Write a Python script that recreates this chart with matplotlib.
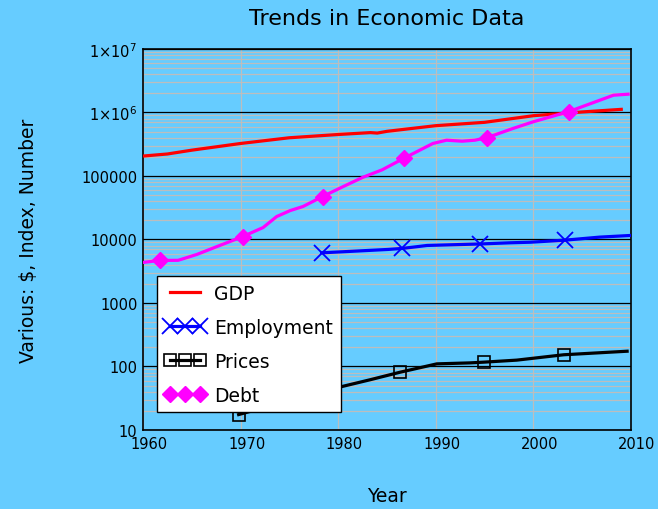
import matplotlib
matplotlib.use("Agg")
import matplotlib.pyplot as plt
import matplotlib.transforms as mtransforms
from matplotlib.ticker import FixedLocator, FixedFormatter, NullFormatter

# series read per year (irregular years where the curves bend)
gdp_years = [1960, 1962.5, 1965, 1970, 1975, 1980, 1983.3, 1984, 1985, 1990, 1995, 2000, 2005, 2009]
gdp = [206000, 222000, 255000, 325000, 400000, 450000, 482000, 474000, 505000, 620000,
       700000, 890000, 1020000, 1120000]

emp_years = [1978.3, 1980.4, 1985.1, 1986.5, 1988.0, 1989.1, 1994.5, 1997.6, 1999.7,
             2003.2, 2006.8, 2009.9]
employment = [6170, 6400, 6970, 7220, 7680, 8050, 8500, 8870, 9060, 9750, 10900, 11560]
emp_marked = [1978.3, 1986.5, 1994.5, 2003.2]

price_years = [1969.8, 1979.8, 1983.3, 1986.3, 1990.1, 1993.5, 1994.9, 1998.3, 2003.1, 2009.6]
prices = [17.5, 46, 62, 81, 110, 114, 117, 126, 153, 174]
price_marked = [1969.8, 1986.3, 1994.9, 2003.1]

debt_years = [1960, 1961.7, 1963.6, 1965.5, 1967.6, 1970.2, 1972.3, 1973.7, 1975.1, 1976.4,
              1978.4, 1980.5, 1982.5, 1984.5, 1986.7, 1989.7, 1991.1, 1992.7, 1994.0,
              1995.2, 1997.9, 2000.0, 2003.6, 2008.2, 2009.7]
debt = [4350, 4680, 4700, 5800, 7760, 11100, 15400, 23000, 28600, 33100, 47500, 68000,
        95000, 125000, 189000, 325000, 366000, 353000, 366000, 399000, 560000, 715000,
        1030000, 1870000, 1940000]
debt_marked = [1961.7, 1970.2, 1978.4, 1986.7, 1995.2, 2003.6]

ytick_vals = [10, 100, 1000, 10000, 100000, 1e6, 1e7]
ytick_labels = ["10", "100", "1000", "10000", "100000", r"$1{\times}10^6$", r"$1{\times}10^7$"]
xtick_vals = [1960, 1970, 1980, 1990, 2000, 2010]

bg = "#66ccff"


def marks(years, marked):
    return [i for i, yr in enumerate(years) if yr in marked]


fig = plt.figure(figsize=(6.58, 5.10), dpi=100, facecolor=bg)
ax = fig.add_axes([0.2173, 0.1549, 0.7417, 0.7471], facecolor=bg)

ax.set_yscale("log")
ax.set_xlim(1960, 2010)
ax.set_ylim(10, 1e7)

ax.plot(gdp_years, gdp, color="#ff0000", lw=2.3, label="GDP", zorder=3)
ax.plot(emp_years, employment, color="#0000ff", lw=2.3, marker="x", ms=12, mew=1.3,
        markevery=marks(emp_years, emp_marked), label="Employment", zorder=3)
ax.plot(price_years, prices, color="black", lw=2.3, marker="s", ms=9, mfc="none", mew=1.2,
        markevery=marks(price_years, price_marked), label="Prices", zorder=3)
ax.plot(debt_years, debt, color="#ff00ff", lw=2.3, marker="D", ms=8,
        markevery=marks(debt_years, debt_marked), label="Debt", zorder=3)

# minor lines at 2..9 of every decade
minor = [m * 10 ** e for e in range(1, 7) for m in range(2, 10)]
ax.yaxis.set_major_locator(FixedLocator(ytick_vals))
ax.yaxis.set_major_formatter(FixedFormatter(ytick_labels))
ax.yaxis.set_minor_locator(FixedLocator(minor))
ax.yaxis.set_minor_formatter(NullFormatter())
ax.set_xticks(xtick_vals)

ax.grid(True, which="minor", axis="y", color="#bdbdbd", lw=0.9, zorder=1)
ax.grid(True, which="major", axis="y", color="black", lw=0.9, zorder=1)
ax.grid(True, which="major", axis="x", color="#bdbdbd", lw=0.9, zorder=1)
ax.set_axisbelow(True)
ax.tick_params(which="both", length=0, labelsize=10.5, pad=4)
for sp in ax.spines.values():
    sp.set_color("black")
    sp.set_linewidth(1.2)

# year labels sit a little right of their gridlines
shift = mtransforms.ScaledTranslation(6 / 100, 0, fig.dpi_scale_trans)
for lbl in ax.get_xticklabels():
    lbl.set_transform(lbl.get_transform() + shift)

ax.set_title("Trends in Economic Data", fontsize=16, pad=18)
ax.set_xlabel("Year", fontsize=13.5)
ax.set_ylabel("Various: $, Index, Number", fontsize=13.5)
ax.xaxis.set_label_coords(0.5, -0.147)
ax.yaxis.set_label_coords(-0.2155, 0.5)

leg = ax.legend(loc="lower left", bbox_to_anchor=(0.029, 0.046), fontsize=13.5, numpoints=3,
                handlelength=2.2, labelspacing=0.8, borderpad=0.4, handletextpad=0.45,
                borderaxespad=0, frameon=True, fancybox=False, framealpha=1)
leg.get_frame().set_edgecolor("black")
leg.get_frame().set_linewidth(1.0)
leg.set_zorder(5)

fig.savefig("out.png", dpi=100, facecolor=bg)
